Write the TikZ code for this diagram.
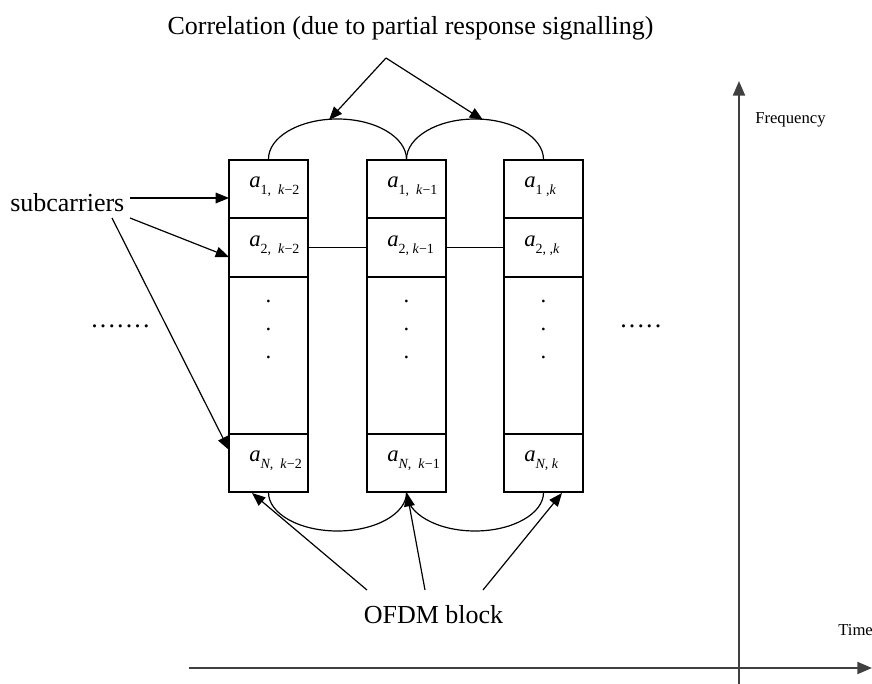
\documentclass[tikz,border=0pt]{standalone}
\usepackage{fontspec}
\setmainfont{Liberation Serif}
\usetikzlibrary{arrows.meta}
\newcommand\sbs[1]{\raisebox{-0.3em}{\fontsize{10.5}{12}\selectfont #1}}
\newcommand\av[1]{\textit{a}\sbs{#1}}
\newcommand\spdots[1]{\foreach \i in {1,...,#1}{.\kern1.6pt}}
\begin{document}
\begin{tikzpicture}[x=0.75pt,y=-0.75pt,
  thin/.style={line width=0.9pt},
  arr/.style={line width=0.9pt,-{Triangle[length=10pt,width=8pt]}},
  axis/.style={line width=1.6pt,draw=black!75,-{Triangle[length=11pt,width=9pt]}},
  cell/.style={draw,line width=0.9pt,minimum width=59.25pt,inner sep=0pt},
  bigtxt/.style={font=\fontsize{19.5}{22}\selectfont,inner sep=0pt},
  smalltxt/.style={font=\fontsize{12.5}{14}\selectfont,inner sep=0pt,anchor=base west},
  lab/.style={font=\fontsize{17}{19}\selectfont,inner sep=0pt,anchor=base west},
  vdot/.style={font=\fontsize{17}{19}\selectfont,inner sep=0pt,anchor=base},
]
\useasboundingbox (0,0) rectangle (872,684);

% columns of cells
\foreach \c/\xc in {1/268.5,2/406.5,3/543.5}{
  \node[cell,minimum height=43.5pt]   (r1c\c) at (\xc,189)   {};
  \node[cell,minimum height=44.25pt]  (r2c\c) at (\xc,247.5) {};
  \node[cell,minimum height=117.75pt] (rmc\c) at (\xc,355.5) {};
  \node[cell,minimum height=43.5pt]   (rNc\c) at (\xc,463)   {};
  \node[vdot] (d1c\c) at (\xc,303) {.};
  \node[vdot] (d2c\c) at (\xc,331) {.};
  \node[vdot] (d3c\c) at (\xc,359) {.};
}

% cell labels
\node[lab] (l11) at (249,188) {\av{1,\ \ \textit{k}−2}};
\node[lab] (l21) at (249,247) {\av{2,\ \ \textit{k}−2}};
\node[lab] (lN1) at (249,462) {\av{\textit{N},\ \ \textit{k}−2}};
\node[lab] (l12) at (387,188) {\av{1,\ \ \textit{k}−1}};
\node[lab] (l22) at (387,247) {\av{2,\ \textit{k}−1}};
\node[lab] (lN2) at (387,462) {\av{\textit{N},\ \ \textit{k}−1}};
\node[lab] (l13) at (524,188) {\av{1\ ,\textit{k}}};
\node[lab] (l23) at (524,247) {\av{2,\ ,\textit{k}}};
\node[lab] (lN3) at (524,462) {\av{\textit{N},\ \textit{k}}};

% row-2 links
\draw[thin] (r2c1.east) -- (r2c2.west);
\draw[thin] (r2c2.east) -- (r2c3.west);

% top arcs (half ellipses)
\draw[thin] (r1c1.north) .. controls (268,137.4) and (299,119) .. (337.5,119)
            .. controls (376,119) and (406.5,137.4) .. (r1c2.north);
\draw[thin] (r1c2.north) .. controls (406.5,137.4) and (437,119) .. (475,119)
            .. controls (513,119) and (543.5,137.4) .. (r1c3.north);
% bottom arcs
\draw[thin] (rNc1.south) .. controls (268.5,513.5) and (299,531) .. (337.5,531)
            .. controls (376,531) and (406.5,513.5) .. (rNc2.south);
\draw[thin] (rNc2.south) .. controls (406.5,513.5) and (437,531) .. (475,531)
            .. controls (513,531) and (543.5,513.5) .. (rNc3.south);

% texts
\node[bigtxt,anchor=base] (title) at (410.5,35) {Correlation (due to partial response signalling)};
\node[bigtxt,anchor=base west] (sub) at (10,212) {subcarriers};
\node[bigtxt,anchor=base] (ofdm) at (433.5,623) {OFDM block};
\node[smalltxt] (freq) at (755,124) {Frequency};
\node[smalltxt] (time) at (838,635) {Time};
\node[bigtxt,anchor=base west] (ldots) at (91,328) {\spdots{7}};
\node[bigtxt,anchor=base west] (rdots) at (620,328) {\spdots{5}};

% correlation arrows
\coordinate (apex) at (386,58);
\coordinate (t1) at (329,120);
\coordinate (t2) at (483,120);
\draw[arr] (apex) -- (t1);
\draw[arr] (apex) -- (t2);

% subcarrier arrows
\coordinate (s1) at (130,198);
\coordinate (s2) at (130,218);
\coordinate (s3) at (112,218);
\coordinate (e1) at (229,198);
\coordinate (e2) at (229,257);
\coordinate (e3) at (229,450);
\draw[arr] (s1) -- (e1);
\draw[arr] (s2) -- (e2);
\draw[arr] (s3) -- (e3);

% OFDM block arrows
\coordinate (o1) at (367,590);
\coordinate (o2) at (425,590);
\coordinate (o3) at (483,590);
\coordinate (b1) at (252,493);
\coordinate (b2) at (407,493);
\coordinate (b3) at (562,493);
\draw[arr] (o1) -- (b1);
\draw[arr] (o2) -- (b2);
\draw[arr] (o3) -- (b3);

% axes
\coordinate (xs) at (189,668);
\coordinate (xe) at (872,668);
\coordinate (ys) at (739,684);
\coordinate (ye) at (739,81);
\draw[axis] (xs) -- (xe);
\draw[axis] (ys) -- (ye);
\end{tikzpicture}
\end{document}
